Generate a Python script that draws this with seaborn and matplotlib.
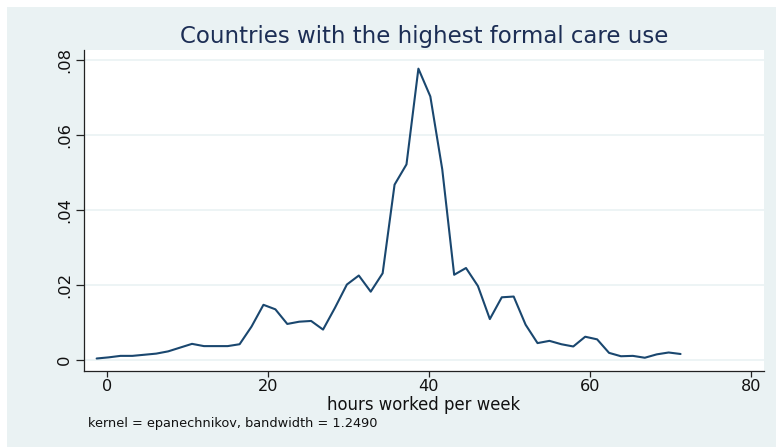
import matplotlib
matplotlib.use("Agg")
import matplotlib.pyplot as plt
from matplotlib.patches import Rectangle
from matplotlib.ticker import FixedLocator, FuncFormatter
import seaborn as sns
import pandas as pd

# Kernel density estimate of weekly working hours (50 evaluation points)
hours = [-1.25, 0.23, 1.71, 3.19, 4.67, 6.15, 7.63, 9.11, 10.59, 12.07,
         13.55, 15.02, 16.50, 17.98, 19.46, 20.94, 22.42, 23.90, 25.38, 26.86,
         28.34, 29.82, 31.30, 32.78, 34.26, 35.74, 37.22, 38.70, 40.18, 41.66,
         43.14, 44.61, 46.09, 47.57, 49.05, 50.53, 52.01, 53.49, 54.97, 56.45,
         57.93, 59.41, 60.89, 62.37, 63.85, 65.33, 66.81, 68.29, 69.77, 71.25]
density = [0.0004, 0.0007, 0.0011, 0.0011, 0.0014, 0.0017, 0.0023, 0.0033, 0.0043, 0.0037,
           0.0037, 0.0037, 0.0042, 0.0089, 0.0147, 0.0135, 0.0096, 0.0102, 0.0104, 0.0081,
           0.0139, 0.0201, 0.0225, 0.0182, 0.0231, 0.0467, 0.0521, 0.0776, 0.0702, 0.0508,
           0.0227, 0.0245, 0.0197, 0.0109, 0.0167, 0.0169, 0.0094, 0.0045, 0.0051, 0.0042,
           0.0036, 0.0062, 0.0055, 0.0019, 0.0010, 0.0011, 0.0006, 0.0015, 0.0020, 0.0016]

x_ticks = [0, 20, 40, 60, 80]
y_ticks = [0, 0.02, 0.04, 0.06, 0.08]

title_text = "Countries with the highest formal care use"
x_title = "hours worked per week"
note_text = "kernel = epanechnikov, bandwidth = 1.2490"

BG = "#EAF2F3"
NAVY = "#1A476F"

sns.set_theme(style="white")
plt.rcParams["font.family"] = ["DejaVu Sans"]

W, H = 776, 447
fig = plt.figure(figsize=(W / 100, H / 100), dpi=100, facecolor="white")

# light panel behind the graph, leaving a thin white margin top/left
fig.patches.append(Rectangle((7 / W, 0), 1 - 7 / W, (H - 7) / H,
                             transform=fig.transFigure, facecolor=BG,
                             edgecolor="none", zorder=-10))

left, right, top, bottom = 84, 764, 49.5, 371
ax = fig.add_axes([left / W, (H - bottom) / H, (right - left) / W, (bottom - top) / H])
ax.set_facecolor("white")

df = pd.DataFrame({"hours": hours, "density": density})
sns.lineplot(data=df, x="hours", y="density", ax=ax, color=NAVY, linewidth=1.5)

ax.set_xlim(-2.82, 81.61)
ax.set_ylim(-0.00293, 0.0827)

ax.xaxis.set_major_locator(FixedLocator(x_ticks))
ax.yaxis.set_major_locator(FixedLocator(y_ticks))
ax.yaxis.set_major_formatter(FuncFormatter(
    lambda v, p: "0" if abs(v) < 1e-12 else f"{v:.2f}".lstrip("0")))

for yv in y_ticks:
    ax.axhline(yv, color=BG, linewidth=1.2, zorder=0.5)

for side in ("top", "right"):
    ax.spines[side].set_visible(False)
for side in ("left", "bottom"):
    ax.spines[side].set_color("#222222")
    ax.spines[side].set_linewidth(0.9)

ax.tick_params(axis="x", direction="out", length=4.0, width=0.9, color="#222222",
               pad=1.5, labelsize=11.6, labelcolor="#111111", bottom=True)
ax.tick_params(axis="y", direction="out", length=5.8, width=0.9, color="#222222",
               pad=3.0, labelsize=11.8, labelcolor="#111111", left=True)
for lbl in ax.get_yticklabels():
    lbl.set_rotation(90)
    lbl.set_va("center")

ax.set_ylabel("")
ax.set_xlabel(x_title, fontsize=11.9, color="#111111", va="baseline")
ax.xaxis.set_label_coords(0.5, (bottom - 410.5) / (bottom - top))

ax.set_title(title_text, fontsize=16.5, color="#1C2E55", pad=5.0)

fig.text(88 / W, (H - 427) / H, note_text, fontsize=9.25, color="#111111",
         ha="left", va="baseline")

fig.savefig("out.png", dpi=100, facecolor="white")
